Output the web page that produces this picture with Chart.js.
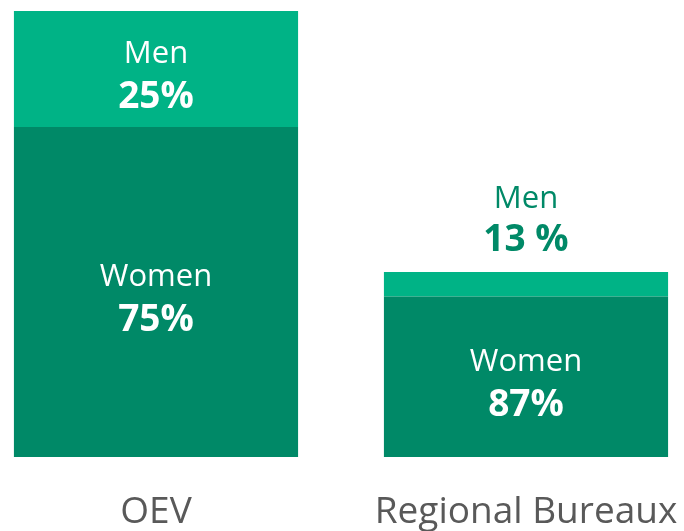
<!DOCTYPE html>
<html>
<head>
<meta charset="utf-8">
<script src="https://cdn.jsdelivr.net/npm/chart.js@4"></script>
<style>
  html, body { margin: 0; padding: 0; background: #ffffff; }
  #wrap { width: 684px; height: 531px; position: relative; }
</style>
</head>
<body>
<div id="wrap"><canvas id="myChart"></canvas></div>
<script>
  // data (staff counts per office)
  const categories = ['OEV', 'Regional Bureaux'];
  const menValues = [5.2, 1.1];
  const womenValues = [14.8, 7.2];
  const menPct = ['25%', '13 %'];
  const womenPct = ['75%', '87%'];

  const lightGreen = '#00b386';
  const darkGreen = '#008967';

  // draws "Men / 25%" style labels on each segment
  const segmentLabels = {
    id: 'segmentLabels',
    afterDatasetsDraw(chart) {
      const ctx = chart.ctx;
      chart.data.datasets.forEach((ds, i) => {
        const meta = chart.getDatasetMeta(i);
        meta.data.forEach((bar, j) => {
          const top = Math.min(bar.y, bar.base);
          const bottom = Math.max(bar.y, bar.base);
          const h = bottom - top;
          let nameY, pctY, color;
          if (h < 90) {
            // too small: put the label above the bar
            pctY = top - 21;
            nameY = pctY - 43;
            color = darkGreen;
          } else {
            const mid = (top + bottom) / 2 + 5;
            nameY = mid - 10.5;
            pctY = mid + 34;
            color = '#ffffff';
          }
          ctx.save();
          ctx.textAlign = 'center';
          ctx.textBaseline = 'alphabetic';
          ctx.fillStyle = color;
          ctx.font = '31px "Open Sans"';
          ctx.fillText(ds.label, bar.x, nameY);
          ctx.font = 'bold 37px "Open Sans"';
          ctx.fillText(ds.pctLabels[j], bar.x, pctY);
          ctx.restore();
        });
      });
    }
  };

  const ctx = document.getElementById('myChart');
  new Chart(ctx, {
    type: 'bar',
    data: {
      labels: categories,
      datasets: [
        {
          label: 'Women',
          data: womenValues,
          pctLabels: womenPct,
          backgroundColor: darkGreen,
          borderWidth: 0,
          barPercentage: 0.768,
          categoryPercentage: 1,
          clip: false
        },
        {
          label: 'Men',
          data: menValues,
          pctLabels: menPct,
          backgroundColor: lightGreen,
          borderWidth: 0,
          barPercentage: 0.768,
          categoryPercentage: 1,
          clip: false
        }
      ]
    },
    options: {
      responsive: true,
      maintainAspectRatio: false,
      animation: false,
      layout: {
        padding: { top: 11, bottom: 0, left: 156, right: 158 }
      },
      scales: {
        x: {
          stacked: true,
          offset: false,
          grid: { display: false, drawTicks: true, tickLength: 37 },
          border: { display: false },
          ticks: {
            padding: 0,
            color: '#595959',
            maxRotation: 0,
            autoSkip: false,
            font: { family: 'Open Sans', size: 37, lineHeight: 1 }
          }
        },
        y: {
          stacked: true,
          display: false,
          min: 0,
          max: 20
        }
      },
      plugins: {
        legend: { display: false },
        tooltip: { enabled: false }
      }
    },
    plugins: [segmentLabels]
  });
</script>
</body>
</html>
